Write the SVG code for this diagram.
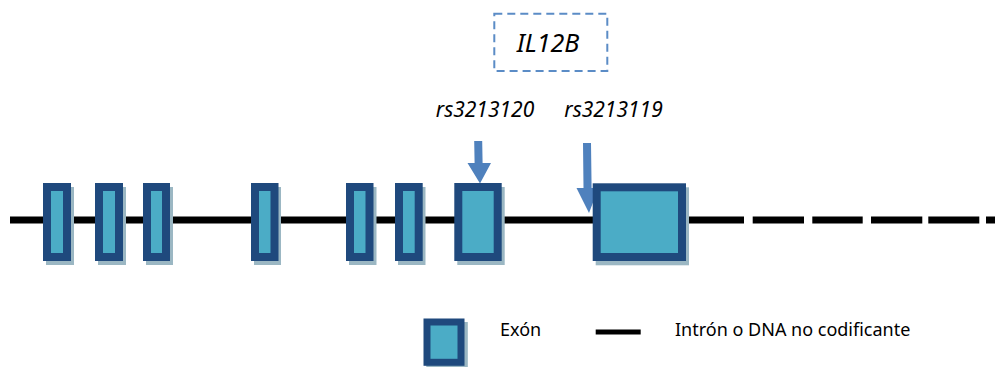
<svg xmlns="http://www.w3.org/2000/svg" width="995" height="367" viewBox="0 0 995 367">
<style>
.ex{fill:#4bacc6;stroke:#1f497d;stroke-width:8}
.exl{fill:#4bacc6;stroke:#1f497d;stroke-width:7}
.sh{fill:#9bb7c3}
.arr{fill:#4f81bd}
.dna{stroke:#000;stroke-width:7;fill:none}
.lbl{font-family:"Noto Sans","Open Sans",sans-serif;fill:#000}
.it{font-style:italic}
</style>
<rect width="995" height="367" fill="#fff"/>
<g id="connectors">
<line class="dna" x1="10" y1="220" x2="744" y2="220"/>
<line class="dna" x1="752.7" y1="220" x2="804" y2="220"/>
<line class="dna" x1="812.3" y1="220" x2="862.7" y2="220"/>
<line class="dna" x1="871" y1="220" x2="922.3" y2="220"/>
<line class="dna" x1="928.3" y1="220" x2="979.3" y2="220"/>
<line class="dna" x1="986" y1="220" x2="995" y2="220"/>
<polygon id="arrow-rs3213120" class="arr" points="474.2,141 482.2,141 482.6,163 491,163 480,183.5 467.5,163 474.6,163"/>
<polygon id="arrow-rs3213119" class="arr" points="583,143 591,143 591.6,188 598.5,188 589,213 576.5,188 583.5,188"/>
</g>
<g id="exon1"><rect class="sh" x="46" y="187" width="28" height="78"/><rect class="ex" x="47" y="187" width="20" height="70"/></g>
<g id="exon2"><rect class="sh" x="98" y="187" width="28" height="78"/><rect class="ex" x="99" y="187" width="20" height="70"/></g>
<g id="exon3"><rect class="sh" x="146" y="187" width="27" height="78"/><rect class="ex" x="147" y="187" width="19" height="70"/></g>
<g id="exon4"><rect class="sh" x="254" y="187" width="27" height="78"/><rect class="ex" x="255" y="187" width="19.5" height="70"/></g>
<g id="exon5"><rect class="sh" x="349" y="187" width="27.5" height="78"/><rect class="ex" x="350" y="187" width="19.5" height="70"/></g>
<g id="exon6"><rect class="sh" x="398" y="187" width="27.5" height="78"/><rect class="ex" x="399" y="187" width="19.7" height="70"/></g>
<g id="exon7"><rect class="sh" x="457.3" y="187" width="47.4" height="78"/><rect class="ex" x="458.3" y="187" width="39.4" height="70"/></g>
<g id="exon8"><rect class="sh" x="595.7" y="187.3" width="93.3" height="78"/><rect class="ex" x="596.7" y="187.3" width="85.3" height="69.7"/></g>
<g id="gene-label">
<rect x="494.3" y="13.7" width="113" height="57.3" fill="none" stroke="#5b8cc6" stroke-width="2" stroke-dasharray="8,5"/>
<text class="lbl it" x="548" y="52" font-size="25" text-anchor="middle">IL12B</text>
</g>
<g id="snp1"><text class="lbl it" x="485" y="117" font-size="21" text-anchor="middle">rs3213120</text></g>
<g id="snp2"><text class="lbl it" x="613.5" y="117" font-size="21" text-anchor="middle">rs3213119</text></g>
<g id="legend-exon">
<rect class="sh" x="426.3" y="322" width="41.5" height="47"/>
<rect class="exl" x="427" y="322" width="34" height="40.3"/>
<text class="lbl" x="500" y="336" font-size="18">Exón</text>
</g>
<g id="legend-intron">
<line x1="595.7" y1="332" x2="640.7" y2="332" stroke="#000" stroke-width="5"/>
<text class="lbl" x="675" y="336" font-size="18">Intrón o DNA no codificante</text>
</g>
</svg>
